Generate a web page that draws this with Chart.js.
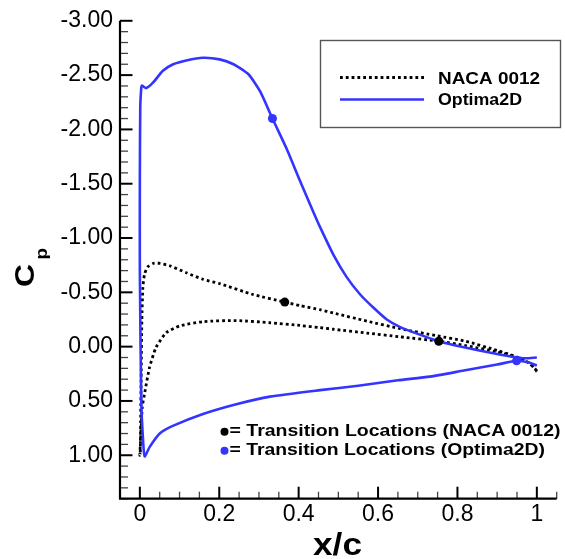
<!DOCTYPE html>
<html><head><meta charset="utf-8">
<script src="https://cdn.jsdelivr.net/npm/chart.js@4.4.0/dist/chart.umd.min.js"></script>
<style>html,body{margin:0;padding:0;background:#fff;overflow:hidden;}</style>
</head><body>
<canvas id="c" width="565" height="559" style="display:block;width:565px;height:559px"></canvas>
<script>
// ---- data ----
const xTickValues = [0, 0.2, 0.4, 0.6, 0.8, 1];
const xTickLabels = ['0', '0.2', '0.4', '0.6', '0.8', '1'];
const yTickValues = [-3, -2.5, -2, -1.5, -1, -0.5, 0, 0.5, 1];
const yTickLabels = ['-3.00', '-2.50', '-2.00', '-1.50', '-1.00', '-0.50', '0.00', '0.50', '1.00'];

// NACA 0012: upper surface TE -> LE, then lower surface LE -> TE
const nacaX = [1.0, 0.992, 0.976, 0.95, 0.90, 0.82, 0.748, 0.656, 0.572, 0.487, 0.454, 0.403, 0.365, 0.285, 0.201, 0.159, 0.117, 0.075, 0.045, 0.033, 0.020, 0.012, 0.0076, 0.005, 0.0035, 0.002, 0.001, 0.0,
               0.006, 0.012, 0.0245, 0.041, 0.067, 0.10, 0.159, 0.243, 0.328, 0.403, 0.454, 0.487, 0.572, 0.656, 0.753, 0.82, 0.90, 0.95, 0.98, 1.0];
const nacaCp = [0.23, 0.19, 0.14, 0.095, 0.035, -0.05, -0.10, -0.165, -0.235, -0.31, -0.34, -0.378, -0.41, -0.48, -0.58, -0.62, -0.68, -0.745, -0.77, -0.766, -0.735, -0.67, -0.545, -0.24, 0.22, 0.68, 0.99, 1.0,
                0.56, 0.43, 0.19, 0.006, -0.13, -0.19, -0.23, -0.24, -0.22, -0.195, -0.175, -0.16, -0.125, -0.09, -0.05, -0.01, 0.05, 0.10, 0.15, 0.22];

// Optima2D: upper surface TE -> LE, then lower surface LE -> TE
const optX = [1.0, 0.968, 0.90, 0.816, 0.748, 0.698, 0.656, 0.622, 0.588, 0.555, 0.521, 0.487, 0.454, 0.437, 0.403, 0.370, 0.334, 0.303, 0.273, 0.236, 0.201, 0.159, 0.117, 0.084, 0.058, 0.033, 0.016, 0.009, 0.005, 0.0035, 0.001, 0.0, 0.0, 0.0035, 0.0076, 0.012,
              0.0245, 0.05, 0.083, 0.159, 0.243, 0.328, 0.454, 0.55, 0.65, 0.731, 0.816, 0.90, 0.949, 0.98, 1.0];
const optCp = [0.10, 0.107, 0.067, 0.006, -0.055, -0.12, -0.18, -0.25, -0.36, -0.48, -0.64, -0.85, -1.10, -1.24, -1.53, -1.82, -2.10, -2.35, -2.51, -2.60, -2.645, -2.66, -2.635, -2.60, -2.54, -2.43, -2.38, -2.395, -2.405, -2.38, -2.2, -1.5, -0.7, 0.5, 0.83, 1.01,
               0.925, 0.80, 0.73, 0.62, 0.53, 0.46, 0.40, 0.36, 0.31, 0.276, 0.22, 0.165, 0.13, 0.145, 0.175];

const nacaTransX = [0.365, 0.753];
const nacaTransCp = [-0.41, -0.05];
const optTransX = [0.334, 0.949];
const optTransCp = [-2.10, 0.13];

const seriesNames = ['NACA 0012', 'Optima2D'];
const noteLabels = ['= Transition Locations (NACA 0012)', '= Transition Locations (Optima2D)'];
const xTitle = 'x/c';
const yTitleMain = 'C';
const yTitleSub = 'p';

// ---- styles ----
const BLUE = 'rgb(52,52,255)';
const FONT = '"Liberation Sans", Arial, Helvetica, sans-serif';

const pts = (xs, ys) => xs.map((x, i) => ({ x: x, y: ys[i] }));

function fitText(ctx, txt, x, y, size, targetW) {
  ctx.font = 'bold ' + size + 'px ' + FONT;
  const w = ctx.measureText(txt).width;
  const sx = targetW / w;
  ctx.save();
  ctx.translate(x, y);
  ctx.scale(sx, 1);
  ctx.textAlign = 'left';
  ctx.textBaseline = 'alphabetic';
  ctx.fillText(txt, 0, 0);
  ctx.restore();
}

const decor = {
  id: 'decor',
  afterDraw(chart) {
    const ctx = chart.ctx;
    const xs = chart.scales.x, ys = chart.scales.y;
    const a = chart.chartArea;
    ctx.save();
    // ticks
    ctx.lineCap = 'butt';
    for (let i = -30; i <= 14; i++) {
      const v = i / 10;
      const p = ys.getPixelForValue(v);
      const major = (i % 5 === 0);
      ctx.strokeStyle = major ? '#000' : '#444';
      ctx.lineWidth = major ? 2 : 1.3;
      ctx.beginPath();
      ctx.moveTo(a.left, p);
      ctx.lineTo(a.left + (major ? 12.5 : 8), p);
      ctx.stroke();
    }
    for (let i = -1; i <= 21; i++) {
      const v = i / 20;
      const p = xs.getPixelForValue(v);
      const major = (i % 4 === 0);
      ctx.strokeStyle = major ? '#000' : '#444';
      ctx.lineWidth = major ? 2 : 1.3;
      ctx.beginPath();
      ctx.moveTo(p, a.bottom);
      ctx.lineTo(p, a.bottom - (major ? 12 : 7));
      ctx.stroke();
    }
    // axis lines
    ctx.strokeStyle = '#000';
    ctx.lineWidth = 2.2;
    ctx.beginPath();
    ctx.moveTo(a.left, a.top);
    ctx.lineTo(a.left, a.bottom);
    ctx.lineTo(a.right, a.bottom);
    ctx.stroke();

    // legend box
    ctx.strokeStyle = '#555';
    ctx.lineWidth = 1.4;
    ctx.strokeRect(320.5, 40.5, 240, 87);
    ctx.lineWidth = 2.8;
    ctx.strokeStyle = '#000';
    ctx.setLineDash([2.8, 3]);
    ctx.beginPath(); ctx.moveTo(340, 77.5); ctx.lineTo(424, 77.5); ctx.stroke();
    ctx.setLineDash([]);
    ctx.strokeStyle = BLUE;
    ctx.lineWidth = 2.6;
    ctx.beginPath(); ctx.moveTo(340, 99.5); ctx.lineTo(424, 99.5); ctx.stroke();
    ctx.fillStyle = '#000';
    fitText(ctx, seriesNames[0], 438, 83.5, 16.5, 102);
    fitText(ctx, seriesNames[1], 438, 105, 16.5, 84);

    // transition notes
    ctx.fillStyle = '#000';
    ctx.beginPath(); ctx.arc(224.5, 431.7, 4, 0, Math.PI * 2); ctx.fill();
    ctx.fillStyle = BLUE;
    ctx.beginPath(); ctx.arc(224.5, 450.7, 4, 0, Math.PI * 2); ctx.fill();
    ctx.fillStyle = '#000';
    fitText(ctx, noteLabels[0], 229.5, 435.5, 16.5, 331);
    fitText(ctx, noteLabels[1], 229.5, 454.5, 16.5, 315.5);

    // x title
    fitText(ctx, xTitle, 313, 555, 31, 49);

    // y title (rotated)
    ctx.save();
    ctx.translate(33.5, 287);
    ctx.rotate(-Math.PI / 2);
    fitText(ctx, yTitleMain, 0, 0, 28, 23);
    ctx.restore();
    ctx.save();
    ctx.translate(46.5, 259.5);
    ctx.rotate(-Math.PI / 2);
    fitText(ctx, yTitleSub, 0, 0, 17, 11.5);
    ctx.restore();

    ctx.restore();
  }
};

new Chart(document.getElementById('c'), {
  type: 'scatter',
  data: {
    datasets: [
      { label: seriesNames[0], data: pts(nacaX, nacaCp), showLine: true, borderColor: '#000', borderWidth: 2.8, borderDash: [2.8, 3], pointRadius: 0, tension: 0.2, order: 3 },
      { label: seriesNames[1], data: pts(optX, optCp), showLine: true, borderColor: BLUE, borderWidth: 2.6, pointRadius: 0, tension: 0.2, order: 2 },
      { label: 'NACA transition', data: pts(nacaTransX, nacaTransCp), showLine: false, pointRadius: 4.5, pointBackgroundColor: '#000', pointBorderWidth: 0, order: 1 },
      { label: 'Optima2D transition', data: pts(optTransX, optTransCp), showLine: false, pointRadius: 4.5, pointBackgroundColor: BLUE, pointBorderWidth: 0, order: 1 }
    ]
  },
  options: {
    responsive: false,
    animation: false,
    devicePixelRatio: 1,
    layout: { padding: { top: 19, right: 8.3, left: 0, bottom: 0 } },
    plugins: { legend: { display: false }, tooltip: { enabled: false } },
    scales: {
      x: {
        type: 'linear', min: -0.05, max: 1.05,
        afterBuildTicks: (s) => { s.ticks = xTickValues.map(v => ({ value: v })); },
        afterFit: (s) => { s.height = 60.3; },
        grid: { display: false, drawTicks: false },
        border: { display: false },
        ticks: { autoSkip: false, maxRotation: 0, padding: 2.5, color: '#000', font: { family: FONT, size: 23 },
                 callback: (v, i) => xTickLabels[i] }
      },
      y: {
        type: 'linear', reverse: true, min: -3, max: 1.4,
        afterBuildTicks: (s) => { s.ticks = yTickValues.map(v => ({ value: v })); },
        afterFit: (s) => { s.width = 120; },
        grid: { display: false, drawTicks: false },
        border: { display: false },
        ticks: { autoSkip: false, padding: 7, color: '#000', font: { family: FONT, size: 23 },
                 callback: (v, i) => yTickLabels[i] }
      }
    }
  },
  plugins: [decor]
});
</script>
</body></html>
